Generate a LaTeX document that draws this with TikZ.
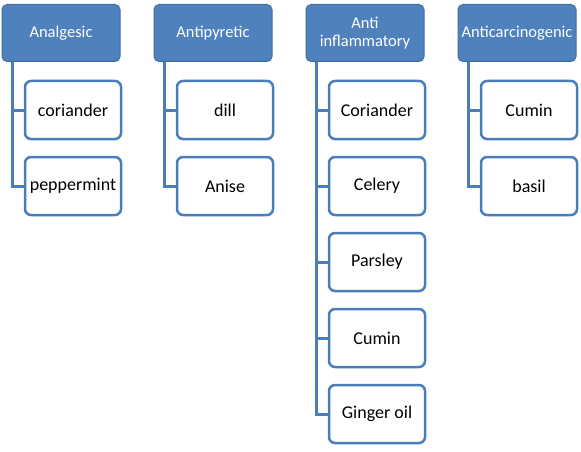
\documentclass[tikz,border=0pt]{standalone}
\usepackage{fontspec}
\setmainfont{Carlito}
\definecolor{hdr}{HTML}{4F81BD}
\definecolor{lnc}{HTML}{4A7EBB}
\begin{document}
\begin{tikzpicture}[x=1pt,y=-1pt,
  header/.style={draw=hdr!85!black,line width=1pt,fill=hdr,rounded corners=5pt,minimum width=118pt,minimum height=57pt,text=white,font=\fontsize{16.5}{18.5}\selectfont,align=center,inner sep=0pt},
  child/.style={draw=lnc,line width=2.5pt,fill=white,rounded corners=6pt,minimum width=96pt,minimum height=58pt,font=\fontsize{18}{20}\selectfont,inner sep=0pt},
  conn/.style={draw=lnc,line width=3pt}]
\useasboundingbox (0,0) rectangle (581,452);
% column 1
\node[header] (h1) at (61,33) {Analgesic};
\node[child] (a1) at (73,110) {coriander};
\node[child] (a2) at (73,186) {peppermint};
% column 2
\node[header] (h2) at (213,33) {Antipyretic};
\node[child] (b1) at (225,110) {dill};
\node[child] (b2) at (225,186) {Anise};
% column 3
\node[header] (h3) at (365,33) {Anti\\inflammatory};
\node[child] (c1) at (377,110) {Coriander};
\node[child] (c2) at (377,186) {Celery};
\node[child] (c3) at (377,262) {Parsley};
\node[child] (c4) at (377,338) {Cumin};
\node[child] (c5) at (377,414) {Ginger oil};
% column 4
\node[header] (h4) at (517,33) {Anticarcinogenic};
\node[child] (d1) at (529,110) {Cumin};
\node[child] (d2) at (529,186) {basil};
% connectors
\foreach \h/\c in {h1/a1,h1/a2,h2/b1,h2/b2,h3/c1,h3/c2,h3/c3,h3/c4,h3/c5,h4/d1,h4/d2}{
  \draw[conn] ([xshift=11pt]\h.south west) |- (\c.west);
}
\end{tikzpicture}
\end{document}
